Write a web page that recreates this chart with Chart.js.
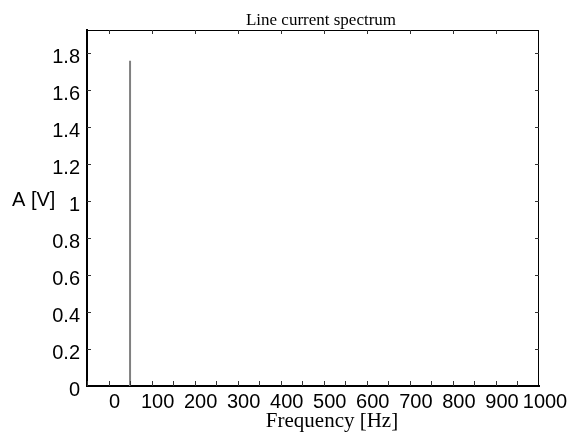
<!DOCTYPE html>
<html>
<head>
<meta charset="utf-8">
<script src="https://cdn.jsdelivr.net/npm/chart.js@4/dist/chart.umd.min.js"></script>
<style>
  html, body { margin: 0; padding: 0; background: #fff; }
  #wrap { width: 573px; height: 432px; }
</style>
</head>
<body>
<div id="wrap"><canvas id="spectrum" width="573" height="432"></canvas></div>
<script>
// spectrum lines: frequency [Hz] and amplitude [V]
var frequencies = [50];
var amplitudes = [1.76];

// axis ticks
var xTicks = [0, 100, 200, 300, 400, 500, 600, 700, 800, 900, 1000];
var xMinorTicks = [-50, 0, 50, 100, 150, 200, 250, 300, 350, 400, 450, 500, 550, 600, 650, 700, 750, 800, 850, 900, 950];
var yTicks = [0, 0.2, 0.4, 0.6, 0.8, 1, 1.2, 1.4, 1.6, 1.8];

var SANS = '"Liberation Sans", Arial, sans-serif';
var SERIF = '"Liberation Serif", "Times New Roman", serif';

// each line goes from zero up to its amplitude, null breaks between them
var points = [];
frequencies.forEach(function(f, i) {
  points.push({ x: f, y: 0 });
  points.push({ x: f, y: amplitudes[i] });
  points.push({ x: f, y: null });
});

// frame, inside ticks and the free texts
var framePlugin = {
  id: 'frame',
  afterDraw: function(chart) {
    var ctx = chart.ctx;
    var a = chart.chartArea;
    var xs = chart.scales.x, ys = chart.scales.y;
    ctx.save();
    ctx.strokeStyle = '#000';
    ctx.lineWidth = 1;
    ctx.beginPath();
    ctx.moveTo(a.left, a.top + 0.5);
    ctx.lineTo(a.right, a.top + 0.5);
    ctx.moveTo(a.right - 0.5, a.top);
    ctx.lineTo(a.right - 0.5, a.bottom);
    ctx.stroke();

    ctx.strokeStyle = '#333';
    ctx.beginPath();
    xMinorTicks.forEach(function(v) {
      var px = Math.round(xs.getPixelForValue(v)) + 0.5;
      ctx.moveTo(px, a.bottom);
      ctx.lineTo(px, a.bottom - 5);
    });
    xTicks.forEach(function(v) {
      var px = Math.round(xs.getPixelForValue(v)) + 0.5;
      if (v < 1000) {
        ctx.moveTo(px, a.top);
        ctx.lineTo(px, a.top + 4);
      }
    });
    yTicks.forEach(function(v) {
      var py = Math.round(ys.getPixelForValue(v)) + 0.5;
      if (v > 0) {
        ctx.moveTo(a.left, py);
        ctx.lineTo(a.left + 4, py);
        ctx.moveTo(a.right, py);
        ctx.lineTo(a.right - 4, py);
      }
    });
    ctx.stroke();

    ctx.fillStyle = '#000';
    ctx.textAlign = 'center';
    ctx.textBaseline = 'alphabetic';
    ctx.font = '17px ' + SERIF;
    ctx.fillText('Line current spectrum', 321, 25);
    ctx.font = '21px ' + SERIF;
    ctx.fillText('Frequency [Hz]', 332, 427);
    ctx.font = '20px ' + SANS;
    ctx.textAlign = 'left';
    ctx.fillText('A [V]', 12, 206);
    ctx.restore();
  }
};

new Chart(document.getElementById('spectrum'), {
  type: 'scatter',
  data: {
    datasets: [{
      data: points,
      showLine: true,
      spanGaps: false,
      borderColor: '#808080',
      borderWidth: 2,
      pointRadius: 0,
      fill: false
    }]
  },
  options: {
    responsive: false,
    animation: false,
    events: [],
    layout: { padding: { left: 0, right: 34, top: 30, bottom: 0 } },
    plugins: {
      legend: { display: false },
      tooltip: { enabled: false },
      title: { display: false }
    },
    scales: {
      x: {
        type: 'linear',
        min: -50,
        max: 1000,
        afterBuildTicks: function(scale) {
          scale.ticks = xTicks.map(function(v) { return { value: v }; });
        },
        afterFit: function(scale) { scale.height = 46; },
        grid: { display: false, drawTicks: false },
        border: { display: true, color: '#000', width: 2 },
        ticks: {
          padding: 4,
          labelOffset: 6,
          maxRotation: 0,
          autoSkip: false,
          color: '#000',
          font: { family: SANS, size: 20 },
          callback: function(v) { return String(v); }
        }
      },
      y: {
        type: 'linear',
        min: 0,
        max: 1.927,
        afterBuildTicks: function(scale) {
          scale.ticks = yTicks.map(function(v) { return { value: v }; });
        },
        afterFit: function(scale) { scale.width = 87; },
        grid: { display: false, drawTicks: false },
        border: { display: true, color: '#000', width: 2 },
        ticks: {
          padding: 7,
          labelOffset: 4,
          autoSkip: false,
          color: '#000',
          font: { family: SANS, size: 20 },
          callback: function(v) { return String(Math.round(v * 10) / 10); }
        }
      }
    }
  },
  plugins: [framePlugin]
});
</script>
</body>
</html>
